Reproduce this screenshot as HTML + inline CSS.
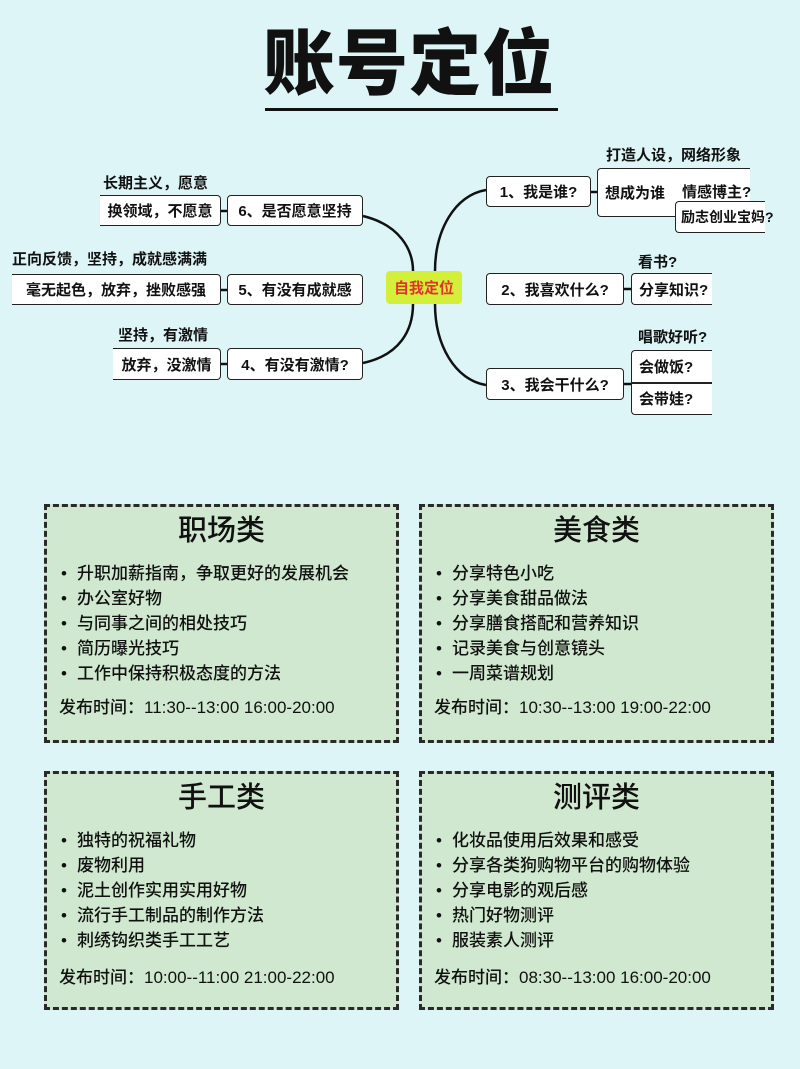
<!DOCTYPE html>
<html><head><meta charset="utf-8"><style>
*{margin:0;padding:0;box-sizing:border-box}
body{width:800px;height:1069px;background:#def5f8;position:relative;overflow:hidden;font-family:"Liberation Sans","Noto Sans CJK SC",sans-serif;color:#111}
.a{position:absolute;white-space:nowrap}
.n{position:absolute;border:1.5px solid #222;border-radius:4px;background:#fff;font-weight:bold;font-size:15px;display:flex;align-items:center;justify-content:center;white-space:nowrap}
.c{position:absolute;border:1.5px solid #222;border-left:none;border-radius:0 4px 4px 0;background:#fff;font-weight:bold;font-size:15px;display:flex;align-items:center;justify-content:center;white-space:nowrap}
.cr{position:absolute;border:1.5px solid #222;border-right:none;border-radius:4px 0 0 4px;background:#fff;font-weight:bold;font-size:15px;display:flex;align-items:center;padding-left:7px;white-space:nowrap}
.l{position:absolute;font-weight:bold;font-size:15px;white-space:nowrap}
.box{position:absolute;width:355px;height:239px;background:#cfe8cf;border:3px dashed #2a2a2a}
.box h2{position:absolute;left:0;right:0;text-align:center;font-size:29px;font-weight:500;top:0px}
.box ul{position:absolute;left:14px;top:54px;list-style:none;font-size:17px;line-height:25px;font-weight:500}
.box li:before{content:"•";margin-right:10px}
.box .t{position:absolute;left:12px;top:186px;font-size:17px;white-space:nowrap;font-weight:500}
</style></head><body>
<div class="a" style="left:263px;top:20px;font-size:72px;font-weight:900;letter-spacing:1px;line-height:90px">账号定位</div>
<div class="a" style="left:265px;top:108px;width:293px;height:3px;background:#111"></div>

<svg class="a" style="left:0;top:0" width="800" height="450">
<g fill="none" stroke="#111" stroke-width="2.5">
<path d="M363,216 C400,225 413,250 413,271"/>
<path d="M413,304 C413,330 400,355 363,363"/>
<path d="M435,271 C435,230 455,195 486,190"/>
<path d="M435,304 C435,345 455,380 486,385"/>
<path d="M221,211 H227 M221,290 H227 M221,364 H227 M591,192 H597 M624,289 H631 M624,384 H631"/>
</g></svg>

<div class="a" style="left:386px;top:271px;width:76px;height:33px;background:#d4ef3a;border-radius:4px;color:#e0352a;font-weight:bold;font-size:15px;display:flex;align-items:center;justify-content:center">自我定位</div>

<div class="l" style="left:103px;top:172px">长期主义，愿意</div>
<div class="c" style="left:100px;top:195px;width:121px;height:31px">换领域，不愿意</div>
<div class="n" style="left:227px;top:195px;width:136px;height:31px">6、是否愿意坚持</div>

<div class="l" style="left:12px;top:248px">正向反馈，坚持，成就感满满</div>
<div class="c" style="left:12px;top:274px;width:209px;height:31px">毫无起色，放弃，挫败感强</div>
<div class="n" style="left:227px;top:274px;width:136px;height:31px">5、有没有成就感</div>

<div class="l" style="left:118px;top:324px">坚持，有激情</div>
<div class="c" style="left:113px;top:348px;width:108px;height:32px">放弃，没激情</div>
<div class="n" style="left:227px;top:348px;width:136px;height:32px">4、有没有激情?</div>

<div class="n" style="left:486px;top:176px;width:105px;height:31px">1、我是谁?</div>
<div class="l" style="left:606px;top:144px">打造人设，网络形象</div>
<div class="cr" style="left:597px;top:168px;width:153px;height:49px">想成为谁</div>
<div class="l" style="left:682px;top:181px">情感博主?</div>
<div class="cr" style="left:675px;top:201px;width:90px;height:32px;padding-left:5px;font-size:14px">励志创业宝妈?</div>

<div class="n" style="left:486px;top:273px;width:138px;height:32px">2、我喜欢什么?</div>
<div class="l" style="left:638px;top:251px">看书?</div>
<div class="cr" style="left:631px;top:273px;width:81px;height:32px">分享知识?</div>

<div class="n" style="left:486px;top:368px;width:138px;height:32px">3、我会干什么?</div>
<div class="l" style="left:638px;top:326px">唱歌好听?</div>
<div class="cr" style="left:631px;top:350px;width:81px;height:65px;flex-direction:column;align-items:flex-start;justify-content:space-around">
<span>会做饭?</span><span>会带娃?</span></div>
<div class="a" style="left:631px;top:382px;width:81px;height:1.5px;background:#222"></div>

<div class="box" style="left:44px;top:504px"><h2>职场类</h2>
<ul><li>升职加薪指南，争取更好的发展机会</li><li>办公室好物</li><li>与同事之间的相处技巧</li><li>简历曝光技巧</li><li>工作中保持积极态度的方法</li></ul>
<div class="t">发布时间：11:30--13:00 16:00-20:00</div></div>

<div class="box" style="left:419px;top:504px"><h2>美食类</h2>
<ul><li>分享特色小吃</li><li>分享美食甜品做法</li><li>分享膳食搭配和营养知识</li><li>记录美食与创意镜头</li><li>一周菜谱规划</li></ul>
<div class="t">发布时间：10:30--13:00 19:00-22:00</div></div>

<div class="box" style="left:44px;top:771px"><h2>手工类</h2>
<ul><li>独特的祝福礼物</li><li>废物利用</li><li>泥土创作实用实用好物</li><li>流行手工制品的制作方法</li><li>刺绣钩织类手工工艺</li></ul>
<div class="t" style="top:189px">发布时间：10:00--11:00 21:00-22:00</div></div>

<div class="box" style="left:419px;top:771px"><h2>测评类</h2>
<ul><li>化妆品使用后效果和感受</li><li>分享各类狗购物平台的购物体验</li><li>分享电影的观后感</li><li>热门好物测评</li><li>服装素人测评</li></ul>
<div class="t" style="top:189px">发布时间：08:30--13:00 16:00-20:00</div></div>
</body></html>
